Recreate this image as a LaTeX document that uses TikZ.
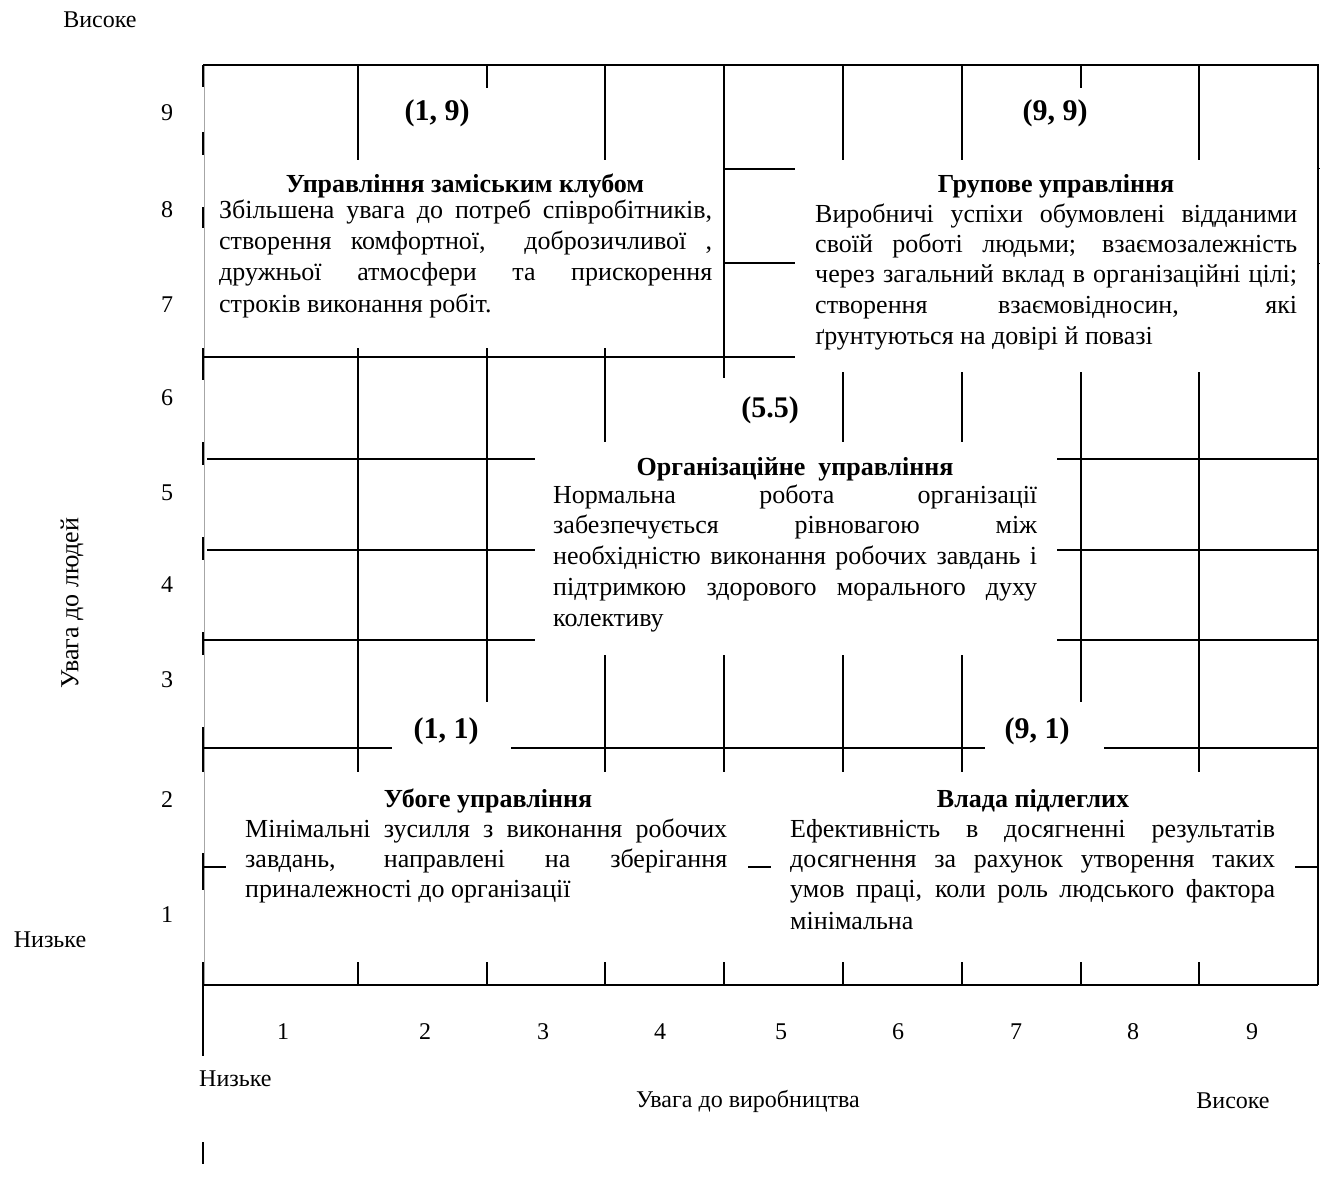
\documentclass[tikz,border=0pt]{standalone}
\usepackage{fontspec}
\setmainfont{Liberation Serif}
\begin{document}
\begin{tikzpicture}[x=1pt,y=-1pt,
  gl/.style={line width=1.8pt},
  gthin/.style={line width=0.8pt, draw=black!35},
  body/.style={anchor=base west, inner sep=0pt, font=\fontsize{26}{30}\selectfont},
  ttl/.style={anchor=base, inner sep=0pt, font=\fontsize{26}{30}\selectfont\bfseries},
  lbl/.style={anchor=center, inner sep=0pt, font=\fontsize{30}{34}\selectfont\bfseries},
  num/.style={anchor=center, inner sep=0pt, font=\fontsize{24}{28}\selectfont},
  axl/.style={anchor=center, inner sep=0pt, font=\fontsize{24}{28}\selectfont}]
\useasboundingbox (0,0) rectangle (1320,1196);

% thin grey left border of the text boxes
\draw[gthin] (204.5,65) -- (204.5,985);
% frame
\draw[gl] (203,65) -- (1318,65) -- (1318,985);
\draw[gl] (203,985) -- (1318,985);
% visible pieces of the left line
\foreach \a/\b in {65/87,132/155,207/228,348/380,442/465,537/560,632/655,727/772,853/890,962/1056}
  \draw[gl] (203,\a) -- (203,\b);
\draw[gl] (203,1142) -- (203,1164);

% vertical grid pieces
\foreach \x/\a/\b in {358/65/160, 358/348/772, 358/962/985,
                      487/65/88, 487/348/702, 487/962/985,
                      605/65/160, 605/348/442, 605/655/772, 605/962/985,
                      724/65/378, 724/655/772, 724/962/985,
                      843/65/160, 843/372/442, 843/655/772, 843/962/985,
                      962/65/160, 962/372/442, 962/655/772, 962/962/985,
                      1081/65/88, 1081/372/702, 1081/962/985,
                      1199/65/160, 1199/372/772, 1199/962/985}
  \draw[gl] (\x,\a) -- (\x,\b);

% horizontal grid pieces
\foreach \y/\a/\b in {169/724/795, 263/724/795, 357/203/795,
                      459/207/535, 459/1057/1318,
                      550/207/535, 550/1057/1318,
                      640/203/535, 640/1057/1318,
                      748/203/392, 748/511/985, 748/1104/1318,
                      867/203/226, 867/748/771, 867/1295/1318}
  \draw[gl] (\a,\y) -- (\b,\y);
\draw[line width=1pt] (1318,169) -- (1321,169);
\draw[line width=1pt] (1318,263) -- (1321,263);

% corner labels
\node[lbl] (l19) at (437,113) {(1, 9)};
\node[lbl] (l99) at (1055,113) {(9, 9)};
\node[lbl] (l55) at (770,410) {(5.5)};
\node[lbl] (l11) at (446,731) {(1, 1)};
\node[lbl] (l91) at (1037,731) {(9, 1)};

% club management
\node[ttl] (t19) at (465,193) {Управління заміським клубом};
\node[body] (a1) at (219,218) {\makebox[493pt][s]{Збільшена увага до потреб співробітників,}};
\node[body] (a2) at (219,249) {\makebox[493pt][s]{створення комфортної,\ \ доброзичливої ,}};
\node[body] (a3) at (219,280) {\makebox[493pt][s]{дружньої атмосфери та прискорення}};
\node[body] (a4) at (219,312) {строків виконання робіт.};

% team management
\node[ttl] (t99) at (1056,193) {Групове управління};
\node[body] (b1) at (815,222) {\makebox[482pt][s]{Виробничі успіхи обумовлені відданими}};
\node[body] (b2) at (815,252) {\makebox[482pt][s]{своїй роботі людьми; взаємозалежність}};
\node[body] (b3) at (815,282) {\makebox[482pt][s]{через загальний вклад в організаційні цілі;}};
\node[body] (b4) at (815,313) {\makebox[482pt][s]{створення взаємовідносин, які}};
\node[body] (b5) at (815,344) {ґрунтуються на довірі й повазі};

% organisation management
\node[ttl] (t55) at (795,475) {Організаційне\ \ управління};
\node[body] (c1) at (553,503) {\makebox[484pt][s]{Нормальна робота організації}};
\node[body] (c2) at (553,533) {\makebox[484pt][s]{забезпечується рівновагою між}};
\node[body] (c3) at (553,564) {\makebox[484pt][s]{необхідністю виконання робочих завдань і}};
\node[body] (c4) at (553,595) {\makebox[484pt][s]{підтримкою здорового морального духу}};
\node[body] (c5) at (553,626) {колективу};

% impoverished management
\node[ttl] (t11) at (488,807) {Убоге управління};
\node[body] (d1) at (245,837) {\makebox[482pt][s]{Мінімальні зусилля з виконання робочих}};
\node[body] (d2) at (245,867) {\makebox[482pt][s]{завдань, направлені на зберігання}};
\node[body] (d3) at (245,897) {приналежності до організації};

% authority-compliance
\node[ttl] (t91) at (1033,807) {Влада підлеглих};
\node[body] (e1) at (790,837) {\makebox[485pt][s]{Ефективність в досягненні результатів}};
\node[body] (e2) at (790,867) {\makebox[485pt][s]{досягнення за рахунок утворення таких}};
\node[body] (e3) at (790,897) {\makebox[485pt][s]{умов праці, коли роль людського фактора}};
\node[body] (e4) at (790,929) {мінімальна};

% y axis numbers
\foreach \n/\y in {9/113,8/210,7/305,6/398,5/493,4/585,3/680,2/800,1/915}
  \node[num] (y\n) at (167,\y) {\n};
% x axis numbers
\foreach \n/\x in {1/283,2/425,3/543,4/660,5/781,6/898,7/1016,8/1133,9/1252}
  \node[num] (x\n) at (\x,1032) {\n};

% axis captions
\node[axl] (vhi) at (100,20) {Високе};
\node[axl] (vlo) at (50,940) {Низьке};
\node[axl, rotate=90, font=\fontsize{26}{30}\selectfont] (vcap) at (72,603) {Увага до людей};
\node[axl, anchor=west] (hlo) at (199,1079) {Низьке};
\node[axl] (hcap) at (748,1101) {Увага до виробництва};
\node[axl] (hhi) at (1233,1101) {Високе};
\end{tikzpicture}
\end{document}
